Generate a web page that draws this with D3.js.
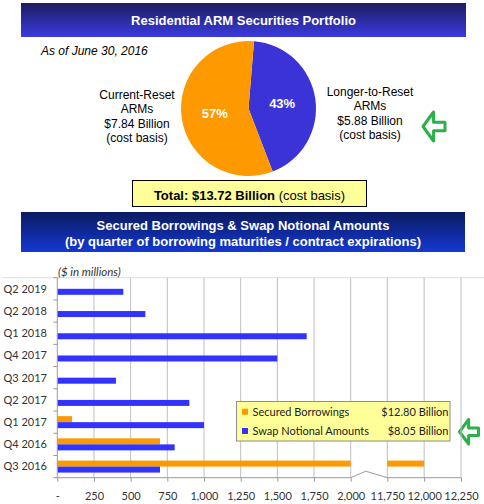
<!DOCTYPE html>
<html><head><meta charset="utf-8">
<script src="https://cdn.jsdelivr.net/npm/d3@7"></script>
<style>body{margin:0;background:#fff;} svg{display:block;}</style>
</head><body><svg id="c" width="484" height="504"></svg>
<script>
// ---------- data ----------
const pieLabels = [["Longer-to-Reset","ARMs","$5.88 Billion","(cost basis)"],["Current-Reset","ARMs","$7.84 Billion","(cost basis)"]];
const pieValues = [5.88, 7.84];
const piePercents = ["43%","57%"];
const categories = ["Q2 2019","Q2 2018","Q1 2018","Q4 2017","Q3 2017","Q2 2017","Q1 2017","Q4 2016","Q3 2016"];
const securedBorrowings = [0,0,0,0,0,0,100,700,12000];
const swapNotional = [450,600,1700,1500,400,900,1000,800,700];
const seriesNames = ["Secured Borrowings","Swap Notional Amounts"];
const seriesTotals = ["$12.80 Billion","$8.05 Billion"];
const xTicks = [0,250,500,750,1000,1250,1500,1750,2000,11750,12000,12250];
const axisBreak = [2000, 11750];

const svg = d3.select("#c");
const defs = svg.append("defs");
const g1 = defs.append("linearGradient").attr("id","g1").attr("x1",0).attr("y1",0).attr("x2",0).attr("y2",1);
g1.append("stop").attr("offset","0%").attr("stop-color","#1d1d60");
g1.append("stop").attr("offset","100%").attr("stop-color","#3a3ae0");
const g2 = defs.append("linearGradient").attr("id","g2").attr("x1",0).attr("y1",0).attr("x2",0).attr("y2",1);
g2.append("stop").attr("offset","0%").attr("stop-color","#0b1a62");
g2.append("stop").attr("offset","100%").attr("stop-color","#1438d2");

const SANS = "'Liberation Sans', Arial, sans-serif";
const CAL = "Lato, 'Open Sans', sans-serif";

// ---------- banner 1 ----------
svg.append("rect").attr("x",21).attr("y",3).attr("width",445).attr("height",34).attr("fill","url(#g1)");
svg.append("text").attr("x",243.5).attr("y",25).attr("text-anchor","middle")
  .attr("font-family",SANS).attr("font-size",13).attr("font-weight","bold").attr("fill","#fff")
  .text("Residential ARM Securities Portfolio");
svg.append("text").attr("x",41).attr("y",54.5).attr("font-family",SANS).attr("font-size",12)
  .attr("font-style","italic").attr("fill","#000").text("As of June 30, 2016");

// ---------- pie ----------
const cx = 248.5, cy = 108.5, R = 67.5;
const start = 0.082;
const pie = d3.pie().sort(null).startAngle(start).endAngle(start + 2*Math.PI);
const arcs = pie(pieValues);
const arc = d3.arc().innerRadius(0).outerRadius(R);
const lblArc = d3.arc().innerRadius(34).outerRadius(34);
const pieColors = ["#3b33d8","#ff9900"];
const pg = svg.append("g").attr("transform",`translate(${cx},${cy})`);
pg.selectAll("path").data(arcs).join("path").attr("d",arc).attr("fill",(d,i)=>pieColors[i]);
pg.selectAll("text").data(arcs).join("text")
  .attr("transform",d=>`translate(${lblArc.centroid(d)})`).attr("dy","0.36em")
  .attr("text-anchor","middle").attr("font-family",SANS).attr("font-size",13).attr("font-weight","bold")
  .attr("fill","#fff").text((d,i)=>piePercents[i]);

const sideX = [370, 137], sideY = [91, 94];
pieLabels.forEach((lines,i)=>{
  const t = svg.append("text").attr("text-anchor","middle").attr("font-family",SANS).attr("font-size",12).attr("fill","#000");
  lines.forEach((l,j)=>t.append("tspan").attr("x",sideX[i]).attr("y",sideY[i]+4.5+j*14.5).text(l));
});

// green arrows
function arrow(x,y,w,h){
  const hw = w*0.48, sh = h*0.3;
  const pts = [[x,y+h/2],[x+hw,y],[x+hw,y+h/2-sh/2],[x+w,y+h/2-sh/2],[x+w,y+h/2+sh/2],[x+hw,y+h/2+sh/2],[x+hw,y+h]];
  svg.append("path").attr("d",d3.line()(pts)+"Z").attr("fill","#fff").attr("stroke","#2bb04a")
    .attr("stroke-width",3).attr("stroke-linejoin","round");
}
arrow(423,112,22,29);
arrow(459.5,419.5,19,24.5);

// total box
svg.append("rect").attr("x",132.5).attr("y",180.5).attr("width",234).attr("height",26).attr("fill","#ffff99").attr("stroke","#000").attr("stroke-width",1);
const tt = svg.append("text").attr("x",249.5).attr("y",199.5).attr("text-anchor","middle").attr("font-family",SANS).attr("font-size",13).attr("fill","#000");
tt.append("tspan").attr("font-weight","bold").text("Total: $13.72 Billion");
tt.append("tspan").text(" (cost basis)");

// ---------- banner 2 ----------
svg.append("rect").attr("x",21).attr("y",212).attr("width",444).attr("height",40).attr("fill","url(#g2)");
svg.append("text").attr("x",243).attr("y",229.5).attr("text-anchor","middle").attr("font-family",SANS).attr("font-size",13)
  .attr("font-weight","bold").attr("fill","#fff").text("Secured Borrowings & Swap Notional Amounts");
svg.append("text").attr("x",243).attr("y",245.5).attr("text-anchor","middle").attr("font-family",SANS).attr("font-size",13)
  .attr("font-weight","bold").attr("fill","#fff").text("(by quarter of borrowing maturities / contract expirations)");

// ---------- bar chart ----------
const plotTop = 277.7, plotBottom = 477.7;
const x = d3.scaleLinear().domain([0, axisBreak[0], axisBreak[1], 12250]).range([57.3, 350.7, 387.3, 461]);
const y = d3.scaleBand().domain(categories).range([plotTop, plotBottom]).paddingInner(0.46).paddingOuter(0.23);
const ySub = d3.scaleBand().domain(seriesNames).range([0, y.bandwidth()]);
const barColors = ["#ff9900","#3333ff"];

svg.append("line").attr("x1",3).attr("x2",484).attr("y1",plotTop).attr("y2",plotTop).attr("stroke","#dcdcdc");
svg.append("text").attr("x",58).attr("y",275.5).attr("font-family",CAL).attr("font-size",11.5).attr("font-style","italic").attr("fill","#333").text("($ in millions)");

// gridlines
svg.append("g").selectAll("line").data(xTicks.filter(d=>d>0)).join("line")
  .attr("x1",d=>x(d)).attr("x2",d=>x(d)).attr("y1",plotTop).attr("y2",plotBottom).attr("stroke","#bfbfbf");

// bars
function segs(v){ return v<=axisBreak[0] ? [[0,v]] : [[0,axisBreak[0]],[axisBreak[1],v]]; }
[securedBorrowings, swapNotional].forEach((vals,si)=>{
  vals.forEach((v,ci)=>{
    if(v<=0) return;
    segs(v).forEach(([a,b])=>{
      svg.append("rect").attr("x",x(a)).attr("width",x(b)-x(a))
        .attr("y",y(categories[ci])+ySub(seriesNames[si])).attr("height",ySub.bandwidth())
        .attr("fill",barColors[si]);
    });
  });
});

// x axis
const xa = svg.append("g").attr("transform",`translate(0,${plotBottom})`)
  .call(d3.axisBottom(x).tickValues(xTicks).tickSize(4).tickFormat(d=>d===0?"-":d3.format(",")(d)));
xa.select(".domain").remove();
xa.selectAll(".tick line").attr("stroke","#9a9a9a");
xa.selectAll(".tick text").attr("font-family",CAL).attr("font-size",11).attr("fill","#333").attr("dy","1.35em");
const bx0 = x(axisBreak[0]), bx1 = x(axisBreak[1]);
svg.append("path").attr("fill","none").attr("stroke","#9a9a9a")
  .attr("d",d3.line()([[x(0),plotBottom],[bx0,plotBottom],[bx0+15,plotBottom-6.5],[bx1,plotBottom],[x(12250),plotBottom]]));

// y axis
svg.append("line").attr("x1",x(0)).attr("x2",x(0)).attr("y1",plotTop).attr("y2",plotBottom).attr("stroke","#9a9a9a");
const bounds = categories.map(c=>y(c)-y.step()*y.paddingInner()/2).concat([plotBottom]);
svg.append("g").selectAll("line").data(bounds).join("line")
  .attr("x1",x(0)-4).attr("x2",x(0)).attr("y1",d=>d).attr("y2",d=>d).attr("stroke","#9a9a9a");
svg.append("g").selectAll("text").data(categories).join("text")
  .attr("x",47).attr("y",d=>y(d)+y.bandwidth()/2).attr("dy","0.35em").attr("text-anchor","end")
  .attr("font-family",CAL).attr("font-size",11).attr("fill","#333").text(d=>d);

// legend
svg.append("rect").attr("x",236.5).attr("y",401.5).attr("width",213.5).attr("height",39.5).attr("fill","#ffff99").attr("stroke","#8c8c8c");
seriesNames.forEach((n,i)=>{
  const yy = 411.7 + i*19.3;
  svg.append("rect").attr("x",242).attr("y",yy-3).attr("width",6).attr("height",6).attr("fill",barColors[i]);
  svg.append("text").attr("x",252.5).attr("y",yy).attr("dy","0.35em").attr("font-family",CAL).attr("font-size",11).attr("fill","#222").text(n);
  svg.append("text").attr("x",448.5).attr("y",yy).attr("dy","0.35em").attr("text-anchor","end").attr("font-family",CAL).attr("font-size",11).attr("fill","#222").text(seriesTotals[i]);
});
</script></body></html>
